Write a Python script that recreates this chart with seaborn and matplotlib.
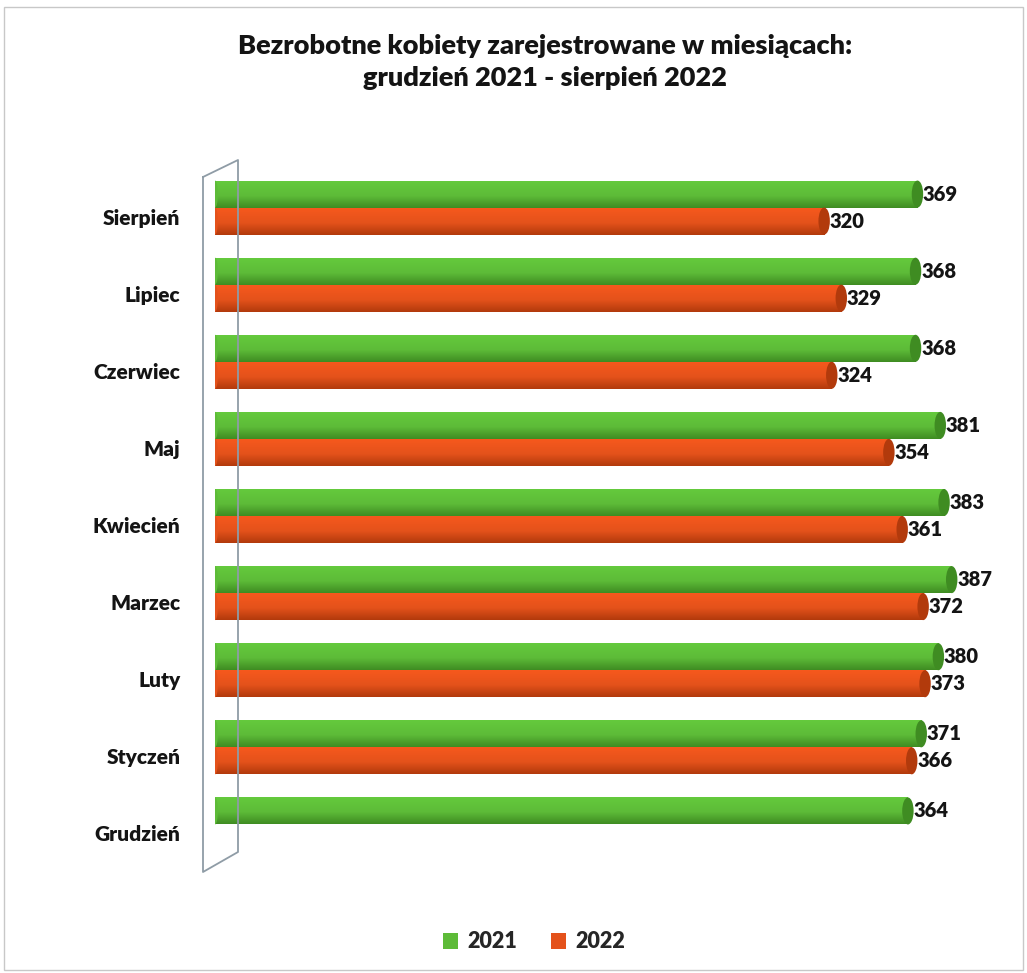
import numpy as np
import pandas as pd
import matplotlib
matplotlib.use("Agg")
import matplotlib.pyplot as plt
import matplotlib.transforms as mtransforms
from matplotlib.patches import Ellipse, Rectangle
from matplotlib.lines import Line2D
from matplotlib.colors import to_rgb
import seaborn as sns

months = ["Sierpień", "Lipiec", "Czerwiec", "Maj", "Kwiecień", "Marzec", "Luty", "Styczeń", "Grudzień"]
values_2021 = [369, 368, 368, 381, 383, 387, 380, 371, 364]
values_2022 = [320, 329, 324, 354, 361, 372, 373, 366, np.nan]
years = ["2021", "2022"]
title = "Bezrobotne kobiety zarejestrowane w miesiącach:\ngrudzień 2021 - sierpień 2022"

colors = {"2021": "#5dbb38", "2022": "#e4521b"}
dark = {"2021": "#3f8c22", "2022": "#b23a0c"}
TXT = "#141414"
W = 800

df = pd.DataFrame({
    "Miesiąc": months * 2,
    "Rok": [years[0]] * len(months) + [years[1]] * len(months),
    "Wartość": values_2021 + values_2022,
})

sns.set_theme(style="white")
plt.rcParams["font.family"] = ["Lato", "DejaVu Sans"]

fig = plt.figure(figsize=(10.27, 9.73), dpi=100)
ax = fig.add_axes([215 / 1027, 1 - 863 / 973, (1005 - 215) / 1027, (863 - 169) / 973])

sns.barplot(data=df, y="Miesiąc", x="Wartość", hue="Rok", order=months, hue_order=years,
            palette=colors, orient="h", width=0.70, ax=ax, legend=False, saturation=1,
            edgecolor="none", errorbar=None)

ax.set_xlim(0, 415)
ax.set_ylim(8.5, -0.5)
ax.set_xlabel("")
ax.set_ylabel("")
ax.set_xticks([])
for s in ax.spines.values():
    s.set_visible(False)
ax.tick_params(axis="y", length=0, pad=25)
for lbl in ax.get_yticklabels():
    lbl.set_fontweight(W)
    lbl.set_fontsize(15)
    lbl.set_color(TXT)
    lbl.set_transform(lbl.get_transform() + mtransforms.ScaledTranslation(0, -9 / 100, fig.dpi_scale_trans))

# cylinder shading and caps
grad = np.linspace(0, 1, 64).reshape(-1, 1)
for container, yr in zip(ax.containers, years):
    base = np.array(to_rgb(colors[yr]))
    dk = np.array(to_rgb(dark[yr]))
    for p in container.patches:
        w = p.get_width()
        if not np.isfinite(w) or w <= 0:
            continue
        x0, y0, h = p.get_x(), p.get_y(), p.get_height()
        t = grad
        light = np.clip(base * 1.08, 0, 1)
        img = np.where(t < 0.55, light * (1 - t / 0.55) + base * (t / 0.55),
                       base * (1 - (t - 0.55) / 0.45) + dk * ((t - 0.55) / 0.45))
        img = img.reshape(-1, 1, 3)
        im = ax.imshow(img, extent=[x0, x0 + w, y0 + h, y0], aspect="auto", zorder=2,
                       interpolation="bilinear")
        im.set_clip_path(p)
        ax.add_patch(Ellipse((x0 + w, y0 + h / 2), 6, h, facecolor=dark[yr], edgecolor="none", zorder=3))
        ax.add_patch(Ellipse((x0, y0 + h / 2), 3, h, facecolor=base, edgecolor="none", zorder=3))
    labels = ["" if not np.isfinite(p.get_width()) else f"{p.get_width():.0f}" for p in container.patches]
    ax.bar_label(container, labels=labels, padding=4, fontsize=14.5, fontweight=W,
                 color=TXT, zorder=4)

ax.set_aspect("auto")
ax.set_xlim(0, 415)
ax.set_ylim(8.5, -0.5)

# wall (3D axis plane)
wall_x = [203, 238, 238, 203, 203]
wall_y = [177, 160, 852, 872, 177]
fig.add_artist(Line2D([x / 1027 for x in wall_x], [1 - y / 973 for y in wall_y],
                      color="#8f9ca6", lw=1.3, zorder=0.5, transform=fig.transFigure))

fig.text(545 / 1027, 1 - 62 / 973, title, ha="center", va="center", fontsize=19.5,
         fontweight=W, color=TXT, linespacing=1.35)

handles = [Rectangle((0, 0), 1, 1, facecolor=colors[y], edgecolor="none") for y in years]
fig.legend(handles, years, loc="center", bbox_to_anchor=(0.52, 1 - 942 / 973), ncol=2,
           frameon=False, prop={"weight": W, "size": 15.5}, handlelength=0.7,
           handleheight=0.7, handletextpad=0.4, columnspacing=1.6)

# outer frame
fig.add_artist(Rectangle((0.004, 0.003), 0.992, 0.99, transform=fig.transFigure,
                         facecolor="none", edgecolor="#c8c8c8", lw=1.0))

fig.savefig("out.png", dpi=100, facecolor="white")
